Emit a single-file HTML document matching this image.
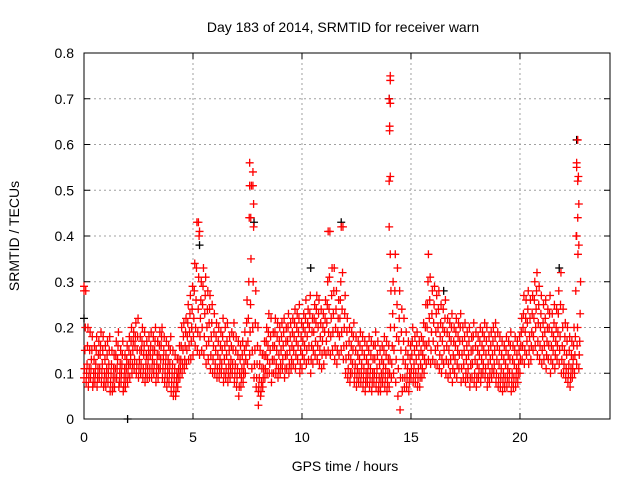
<!DOCTYPE html>
<html><head><meta charset="utf-8"><style>
body{margin:0;background:#fff;}
svg{display:block;font-family:"Liberation Sans",sans-serif;}
</style></head><body>
<svg id="chart" width="640" height="480">
<rect width="640" height="480" fill="#fff"/>
<text x="343" y="32" text-anchor="middle" font-size="14">Day 183 of 2014, SRMTID for receiver warn</text>
<text x="19" y="236" text-anchor="middle" font-size="14" transform="rotate(-90 19 236)">SRMTID / TECUs</text>
<text x="345" y="471" text-anchor="middle" font-size="14">GPS time / hours</text>
<g id="grid"></g>
<g id="axes"></g>
<g id="marks"></g>
</svg>
<script>
const xTicks=[0,5,10,15,20];
const yTicks=[0,0.1,0.2,0.3,0.4,0.5,0.6,0.7,0.8];
const yTickLabels=["0","0.1","0.2","0.3","0.4","0.5","0.6","0.7","0.8"];
const midVals=[.15,.12,.11,.13,.10,.12,.11,.14,.12,.10,.11,.12,.10,.09,.11,.13,.10,.12,.09,.11,.12,.14,.15,.16,.15,.13,.15,.14,.12,.13,.14,.13,.15,.12,.14,.16,.13,.12,.11,.12,.10,.09,.08,.11,.13,.15,.16,.18,.19,.20,.22,.26,.24,.22,.25,.23,.20,.21,.18,.16,.15,.14,.13,.15,.13,.14,.12,.13,.15,.12,.11,.10,.11,.12,.16,.22,.25,.20,.15,.12,.09,.08,.11,.14,.16,.15,.13,.16,.15,.14,.15,.16,.14,.17,.15,.16,.18,.17,.19,.15,.17,.19,.18,.20,.16,.19,.21,.20,.18,.17,.19,.21,.24,.22,.23,.20,.19,.22,.24,.20,.16,.14,.13,.15,.12,.11,.13,.12,.11,.10,.12,.11,.10,.13,.11,.09,.10,.12,.11,.10,.13,.16,.20,.18,.17,.15,.13,.12,.11,.10,.14,.12,.13,.11,.12,.14,.16,.20,.22,.19,.21,.19,.20,.18,.17,.19,.16,.15,.17,.14,.16,.15,.17,.14,.15,.13,.14,.12,.15,.13,.12,.14,.13,.15,.14,.12,.13,.14,.15,.13,.12,.11,.10,.12,.11,.13,.10,.12,.11,.12,.16,.20,.19,.21,.18,.19,.22,.24,.21,.20,.18,.19,.17,.20,.16,.18,.17,.19,.18,.16,.15,.14,.12,.11,.13,.18,.20,.17];
const hiVals=[.28,.20,.19,.18,.16,.18,.17,.19,.18,.16,.17,.18,.15,.14,.17,.19,.15,.17,.14,.16,.18,.20,.19,.21,.22,.18,.20,.19,.17,.18,.19,.18,.20,.17,.19,.20,.18,.17,.16,.18,.15,.14,.13,.16,.20,.21,.22,.25,.27,.29,.34,.43,.40,.30,.33,.31,.28,.27,.25,.23,.21,.20,.19,.22,.20,.21,.18,.19,.21,.18,.17,.16,.17,.19,.26,.44,.51,.42,.28,.20,.15,.14,.17,.20,.23,.22,.19,.22,.21,.20,.21,.22,.20,.23,.21,.22,.24,.23,.25,.21,.23,.26,.24,.27,.22,.25,.27,.26,.24,.23,.26,.30,.41,.33,.33,.28,.26,.30,.42,.27,.22,.20,.19,.21,.18,.17,.19,.18,.17,.16,.18,.17,.16,.19,.17,.15,.16,.18,.17,.16,.28,.30,.36,.33,.28,.24,.22,.19,.17,.16,.20,.18,.19,.17,.18,.21,.25,.30,.31,.28,.29,.27,.28,.25,.24,.26,.22,.21,.23,.20,.22,.21,.23,.20,.21,.19,.20,.18,.21,.19,.18,.20,.19,.21,.20,.18,.19,.20,.21,.19,.18,.17,.16,.18,.17,.19,.16,.18,.17,.18,.22,.27,.26,.28,.26,.27,.30,.32,.29,.27,.25,.26,.24,.27,.23,.25,.24,.28,.32,.24,.21,.20,.18,.17,.20,.40,.53,.30];
const loVals=[.09,.08,.07,.09,.07,.08,.07,.09,.08,.07,.07,.08,.06,.06,.07,.09,.07,.08,.06,.07,.08,.09,.10,.11,.10,.09,.10,.09,.08,.09,.09,.09,.10,.08,.09,.11,.09,.08,.07,.08,.06,.05,.05,.07,.09,.10,.11,.12,.13,.13,.14,.16,.15,.14,.15,.14,.12,.13,.11,.10,.10,.09,.09,.10,.08,.09,.08,.09,.10,.08,.07,.05,.07,.08,.10,.12,.14,.11,.09,.07,.06,.05,.07,.09,.10,.10,.08,.10,.10,.09,.10,.11,.09,.11,.10,.11,.12,.11,.13,.10,.11,.13,.12,.13,.10,.12,.14,.13,.12,.11,.12,.14,.15,.14,.15,.13,.12,.14,.15,.13,.10,.09,.08,.10,.08,.07,.08,.08,.07,.06,.08,.07,.06,.08,.07,.06,.06,.08,.07,.06,.07,.09,.10,.08,.05,.02,.06,.07,.07,.06,.09,.08,.08,.07,.07,.09,.10,.12,.13,.12,.13,.12,.12,.11,.10,.12,.10,.09,.10,.08,.10,.09,.11,.08,.09,.08,.09,.07,.09,.08,.07,.09,.08,.10,.09,.07,.08,.09,.10,.08,.07,.07,.06,.07,.07,.08,.06,.07,.07,.08,.10,.13,.12,.14,.12,.13,.15,.16,.14,.13,.12,.13,.11,.13,.10,.12,.11,.13,.12,.10,.10,.09,.08,.07,.09,.10,.12,.11];
const lowerMidVals=[.11,.10,.09,.11,.08,.10,.09,.11,.10,.08,.09,.10,.08,.07,.09,.11,.08,.10,.07,.09,.10,.12,.12,.13,.12,.11,.12,.11,.10,.11,.11,.11,.12,.10,.11,.13,.11,.10,.09,.10,.08,.07,.06,.09,.11,.12,.13,.15,.16,.17,.18,.20,.19,.18,.20,.18,.16,.17,.14,.13,.12,.11,.11,.12,.10,.11,.10,.11,.12,.10,.09,.07,.09,.10,.13,.17,.19,.15,.12,.09,.07,.06,.09,.11,.13,.12,.10,.13,.12,.11,.12,.13,.11,.14,.12,.13,.15,.14,.16,.12,.14,.16,.15,.16,.13,.15,.17,.16,.15,.14,.15,.17,.19,.18,.19,.16,.15,.18,.19,.16,.13,.11,.10,.12,.10,.09,.10,.10,.09,.08,.10,.09,.08,.10,.09,.07,.08,.10,.09,.08,.10,.12,.15,.13,.11,.09,.09,.09,.09,.08,.11,.10,.10,.09,.09,.11,.13,.16,.17,.15,.17,.15,.16,.14,.13,.15,.13,.12,.13,.11,.13,.12,.14,.11,.12,.10,.11,.09,.12,.10,.09,.11,.10,.12,.11,.09,.10,.11,.12,.10,.09,.09,.08,.09,.09,.10,.08,.09,.09,.10,.13,.16,.15,.17,.15,.16,.18,.20,.17,.16,.15,.16,.14,.16,.13,.15,.14,.16,.15,.13,.12,.11,.10,.09,.11,.14,.16,.14];
const upperMidVals=[.20,.16,.15,.15,.13,.15,.14,.16,.15,.13,.14,.15,.12,.11,.14,.16,.12,.14,.11,.13,.15,.17,.17,.18,.18,.15,.17,.16,.14,.15,.16,.15,.17,.14,.16,.18,.15,.14,.13,.15,.12,.11,.10,.13,.16,.18,.19,.21,.23,.24,.28,.33,.31,.26,.29,.27,.24,.24,.21,.19,.18,.17,.16,.18,.16,.17,.15,.16,.18,.15,.14,.13,.14,.15,.21,.30,.35,.30,.21,.16,.12,.11,.14,.17,.19,.18,.16,.19,.18,.17,.18,.19,.17,.20,.18,.19,.21,.20,.22,.18,.20,.22,.21,.23,.19,.22,.24,.23,.21,.20,.22,.25,.31,.27,.28,.24,.22,.26,.32,.23,.19,.17,.16,.18,.15,.14,.16,.15,.14,.13,.15,.14,.13,.16,.14,.12,.13,.15,.14,.13,.20,.23,.28,.25,.22,.19,.17,.15,.14,.13,.17,.15,.16,.14,.15,.17,.20,.25,.26,.23,.25,.23,.24,.21,.20,.22,.19,.18,.20,.17,.19,.18,.20,.17,.18,.16,.17,.15,.18,.16,.15,.17,.16,.18,.17,.15,.16,.17,.18,.16,.15,.14,.13,.15,.14,.16,.13,.15,.14,.15,.19,.23,.22,.24,.22,.23,.26,.28,.25,.23,.21,.22,.20,.23,.19,.21,.20,.23,.25,.20,.18,.17,.15,.14,.16,.28,.36,.23];
const spikeTimes=[14.05,14.05,14.0,14.05,14.02,14.02,14.05,14.0,14.0,14.05,7.6,7.75,7.75,7.6,7.65,7.78,5.25,5.3,22.65,22.6,22.6,22.65,22.7,22.65,22.6,22.7,11.2,11.8,15.8,0.0,0.0,8.0];
const spikeVals=[.75,.74,.70,.69,.64,.63,.53,.52,.42,.36,.56,.54,.51,.51,.44,.47,.43,.41,.61,.56,.55,.52,.47,.44,.40,.38,.41,.42,.36,.28,.29,.03];
const blackTimes=[2.0,14.0,22.6,11.8,7.8,5.3,0.0,10.4,21.8,16.5];
const blackVals=[0.0,.70,.61,.43,.43,.38,.22,.33,.33,.28];
const timeStep=0.1;

const X0=84,X1=610,Y0=419,Y1=53,XMAX=24.13,YMAX=0.8;
const xs=v=>X0+(X1-X0)*v/XMAX;
const ys=v=>Y0-(Y0-Y1)*v/YMAX;
const NS="http://www.w3.org/2000/svg";
const grid=document.getElementById('grid'),axes=document.getElementById('axes'),marks=document.getElementById('marks');
function mk(tag,attrs,parent){const e=document.createElementNS(NS,tag);for(const k in attrs)e.setAttribute(k,attrs[k]);parent.appendChild(e);return e;}

yTicks.forEach((t,i)=>{
  const y=ys(t);
  if(t>0&&t<YMAX){const g=mk('line',{x1:X0,x2:X1,y1:y,y2:y,stroke:'#a0a0a0','stroke-dasharray':'2,3'},grid);
  
  }
  mk('line',{x1:X0,x2:X0+6,y1:y,y2:y,stroke:'#000'},axes);
  mk('line',{x1:X1,x2:X1-6,y1:y,y2:y,stroke:'#000'},axes);
  const tx=mk('text',{x:X0-10,y:y+5,'text-anchor':'end','font-size':'14'},axes);
  tx.textContent=yTickLabels[i];
  
  
});
xTicks.forEach(t=>{
  const x=xs(t);
  if(t>0){const g=mk('line',{x1:x,x2:x,y1:Y1,y2:Y0,stroke:'#a0a0a0','stroke-dasharray':'2,3'},grid);
  
  }
  mk('line',{x1:x,x2:x,y1:Y0,y2:Y0-6,stroke:'#000'},axes);
  mk('line',{x1:x,x2:x,y1:Y1,y2:Y1+6,stroke:'#000'},axes);
  const tx=mk('text',{x:x,y:Y0+23,'text-anchor':'middle','font-size':'14'},axes);
  tx.textContent=String(t);
  
  
});
const fr=mk('rect',{x:X0,y:Y1,width:X1-X0,height:Y0-Y1,fill:'none',stroke:'#000'},axes);



function cross(t,v,color){
  const x=xs(t),y=ys(v);
  const p=mk('path',{d:`M${x-4},${y}h8M${x},${y-4}v8`,stroke:color,'stroke-width':'1.3',fill:'none'},marks);
  
  
}
blackTimes.forEach((t,i)=>cross(t,blackVals[i],'#000'));
[loVals,lowerMidVals,midVals,upperMidVals,hiVals].forEach((arr,k)=>{
  arr.forEach((v,i)=>cross(i*timeStep+k*0.02,v,'#f00'));
});
spikeTimes.forEach((t,i)=>cross(t,spikeVals[i],'#f00'));
</script>
</body></html>
